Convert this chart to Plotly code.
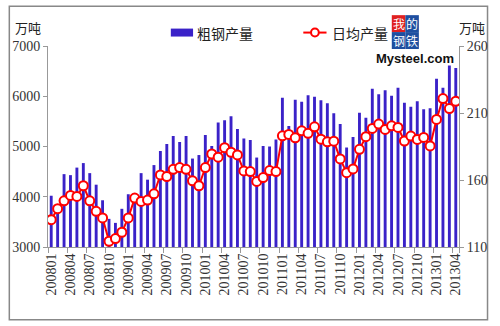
import plotly.graph_objects as go

months = [f"{y}{m:02d}" for y in range(2008, 2014) for m in range(1, 13)][:64]

crude = [4020, 3800, 4450, 4430, 4580, 4670, 4470, 4240, 3930, 3560, 3480, 3760,
         4050, 3950, 4470, 4340, 4630, 4910, 5050, 5210, 5090, 5210, 4760, 4830,
         5230, 5010, 5480, 5520, 5600, 5350, 5160, 5130, 4780, 5010, 5000, 5140,
         5970, 5410, 5930, 5890, 6020, 5990, 5920, 5860, 5660, 5450, 4980, 5190,
         5670, 5570, 6150, 6040, 6120, 6010, 6170, 5870, 5790, 5900, 5740, 5760,
         6350, 6170, 6610, 6560]

daily = [130.4, 138.6, 144.5, 148.5, 147.7, 155.7, 144.5, 136.6, 131.7, 114.3, 116.3, 121.0,
         131.7, 146.5, 144.0, 145.0, 149.7, 163.8, 162.6, 168.0, 169.3, 168.0, 159.4, 155.7,
         169.3, 179.4, 177.0, 184.1, 180.7, 178.7, 166.8, 166.3, 158.9, 161.8, 167.0, 166.3,
         193.0, 194.0, 191.5, 196.7, 194.8, 199.7, 190.5, 188.5, 189.0, 175.7, 165.5, 168.3,
         182.9, 192.3, 198.5, 201.7, 197.7, 200.4, 199.2, 189.1, 192.8, 190.3, 191.8, 185.4,
         205.2, 220.8, 213.3, 218.8]

tick_labels = months[::3]
bar_name = "粗钢产量"
line_name = "日均产量"

serif = "Liberation Serif"
cjk = "Noto Sans CJK SC"
BAR_COLOR = "#3A22C8"
LINE_COLOR = "#FF0000"

fig = go.Figure()
fig.add_trace(go.Bar(x=months, y=crude, name=bar_name, marker=dict(color=BAR_COLOR, line=dict(width=0)),
                     yaxis="y", showlegend=False))
fig.add_trace(go.Scatter(x=months, y=daily, name=line_name, yaxis="y2", mode="lines+markers",
                         line=dict(color=LINE_COLOR, width=2), showlegend=False,
                         marker=dict(symbol="circle", size=9, color="white",
                                     line=dict(color=LINE_COLOR, width=2))))

# plot area geometry (pixels): x 43..468, y 45.5..247.5
L, R, T, B = 43, 468, 45.5, 247.5
W, H = R - L, B - T
def px(x):
    return (x - L) / W
def py(y):
    return (B - y) / H

fig.update_layout(
    width=500, height=326,
    margin=dict(l=L, r=500 - R, t=T, b=326 - B),
    paper_bgcolor="white", plot_bgcolor="white",
    bargap=0.55,
    showlegend=False,
    xaxis=dict(type="category", tickvals=tick_labels, ticktext=tick_labels, tickangle=-90,
               tickson="boundaries", ticks="outside", ticklen=5, tickcolor="#999",
               showline=True, linecolor="#999", linewidth=1, showgrid=False,
               tickfont=dict(family=serif, size=14, color="#333"), range=[-0.5, 63.5]),
    yaxis=dict(range=[3000, 7000], dtick=1000, ticks="outside", ticklen=4, tickcolor="#999",
               showline=True, linecolor="#999", linewidth=1, showgrid=False, zeroline=False,
               tickfont=dict(family=serif, size=14, color="#333")),
    yaxis2=dict(range=[110, 260], tick0=110, dtick=50, overlaying="y", side="right", ticks="outside",
                ticklen=4, tickcolor="#999", showline=True, linecolor="#999", linewidth=1,
                showgrid=False, zeroline=False,
                tickfont=dict(family=serif, size=14, color="#333")),
)

def ann(text, x, y, size, color="#222", family=cjk, xanchor="center"):
    fig.add_annotation(text=text, xref="paper", yref="paper", x=px(x), y=py(y), showarrow=False,
                       xanchor=xanchor, yanchor="middle", font=dict(family=family, size=size, color=color))

# axis unit titles
ann("万吨", 22, 27, 13)
ann("万吨", 481, 27, 13)

# custom legend
fig.add_shape(type="rect", xref="paper", yref="paper", x0=px(170), x1=px(193), y0=py(36), y1=py(28),
              fillcolor=BAR_COLOR, line=dict(width=0))
ann(bar_name, 195, 32, 14, xanchor="left")
fig.add_shape(type="line", xref="paper", yref="paper", x0=px(307), x1=px(331), y0=py(32), y1=py(32),
              line=dict(color=LINE_COLOR, width=2))
fig.add_shape(type="circle", xref="paper", yref="paper", x0=px(315), x1=px(323), y0=py(36), y1=py(28),
              fillcolor="white", line=dict(color=LINE_COLOR, width=2))
ann(line_name, 335, 32, 14, xanchor="left")

# logo
logo = [("我", 405.5, 23, "#E02020"), ("的", 419.5, 23, "#1E4FA0"),
        ("钢", 405.5, 40, "#1E4FA0"), ("铁", 419.5, 40, "#1E4FA0")]
for ch, cx, cy, col in logo:
    fig.add_shape(type="rect", xref="paper", yref="paper", x0=px(cx - 7), x1=px(cx + 7),
                  y0=py(cy + 8.5), y1=py(cy - 8.5), fillcolor=col, line=dict(width=0))
    ann(ch, cx, cy, 12, color="white")
ann("<b>Mysteel.com</b>", 422, 58, 13, color="#111", family="Liberation Sans")

# outer border
fig.add_shape(type="rect", xref="paper", yref="paper", x0=px(3), x1=px(497.5), y0=py(320.5), y1=py(5.5),
              line=dict(color="#888", width=1.5), fillcolor="rgba(0,0,0,0)", layer="below")

fig.write_html("out.html")
